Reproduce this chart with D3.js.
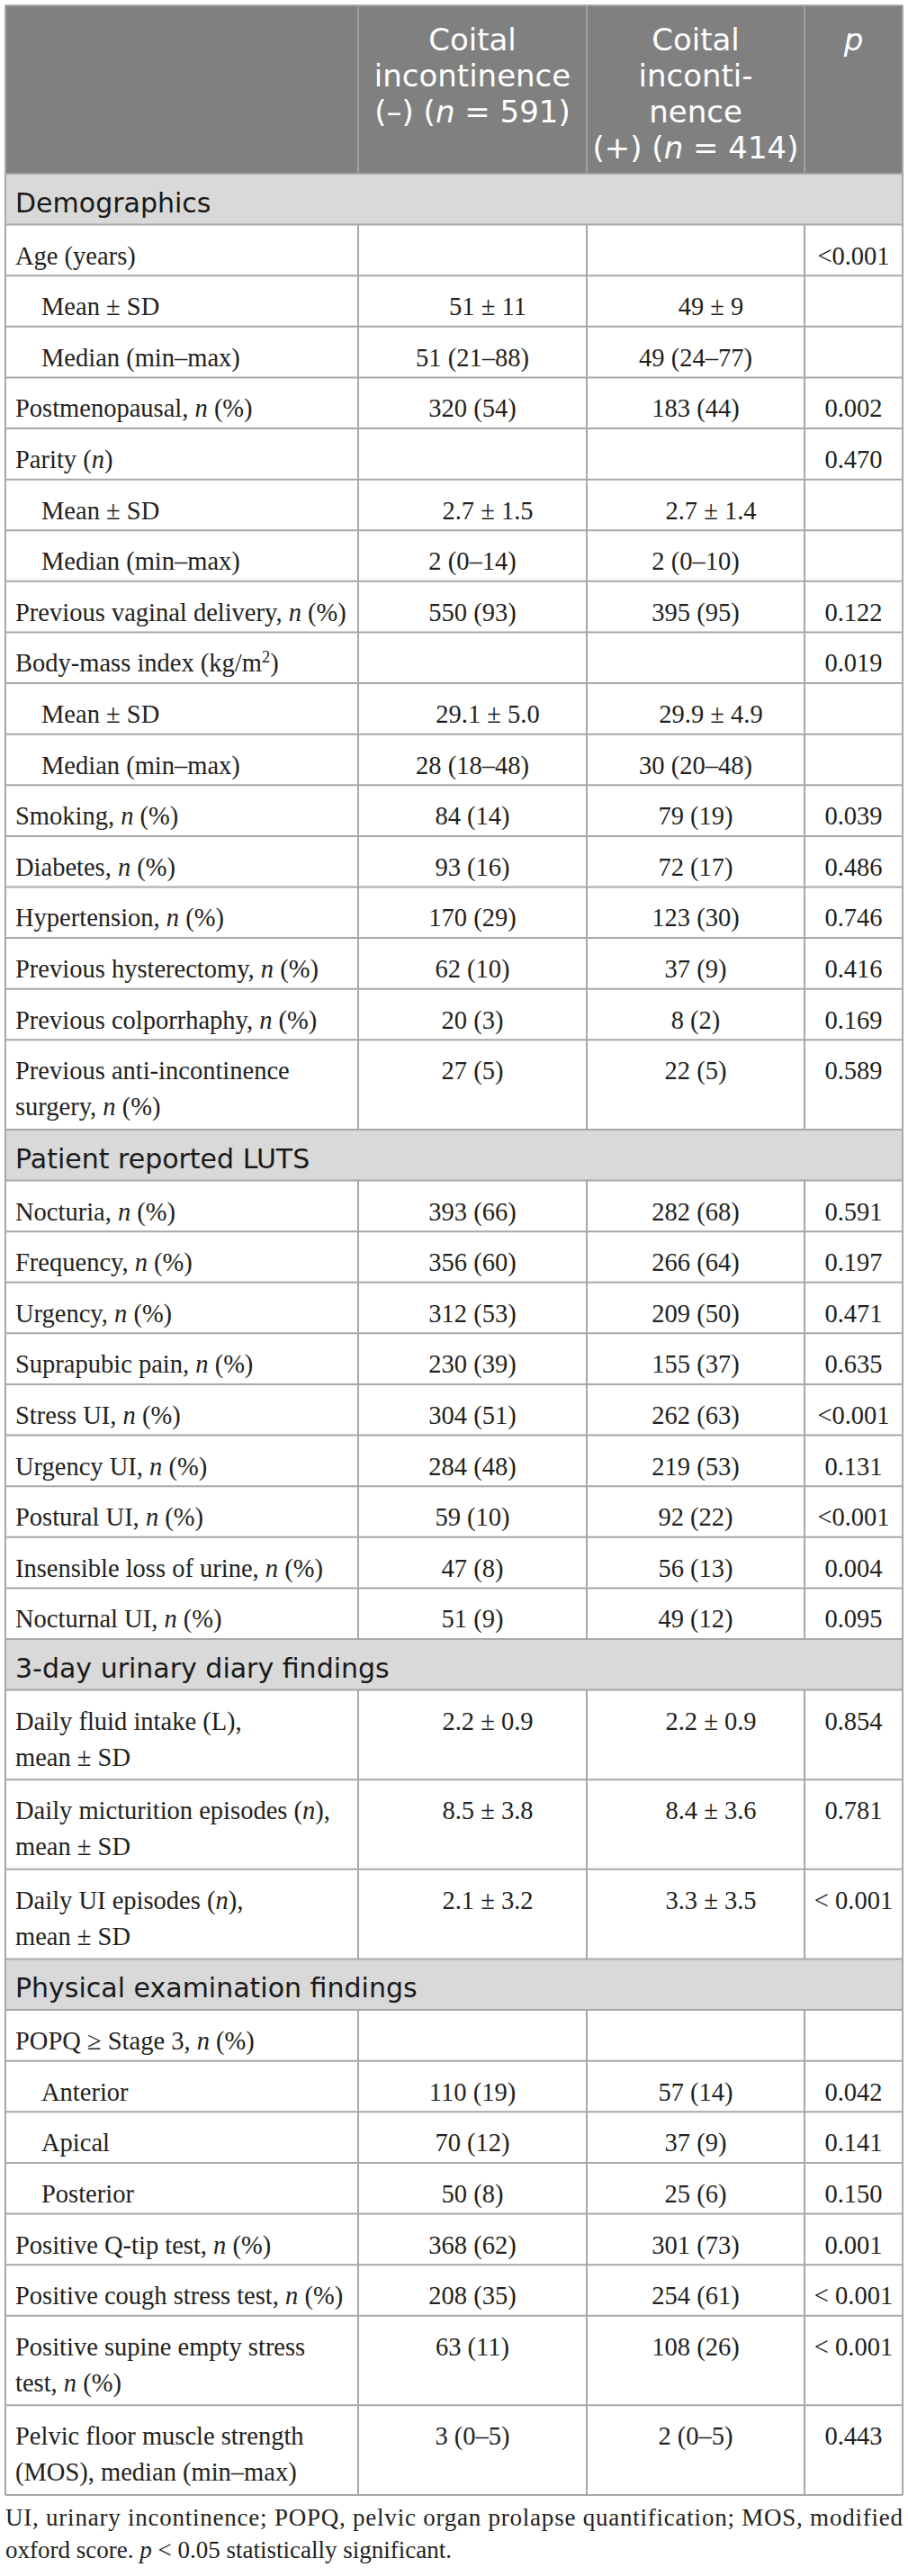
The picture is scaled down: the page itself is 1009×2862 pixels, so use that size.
<!DOCTYPE html>
<html><head><meta charset="utf-8">
<script src="https://cdn.jsdelivr.net/npm/d3@7"></script>
<style>html,body{margin:0;padding:0;background:#fff}</style>
</head><body><div id="chart"></div>
<script>
// ---------- data ----------
const headerNeg = ["Coital", "incontinence", "(–) (*n* = 591)"];
const headerPos = ["Coital", "inconti-", "nence", "(+) (*n* = 414)"];
const headerP = ["*p*"];

const rowKinds = [
  "section","item","sub","sub","item","item","sub","sub","item","item","sub","sub",
  "item","item","item","item","item","item",
  "section","item","item","item","item","item","item","item","item","item",
  "section","item","item","item",
  "section","item","sub","sub","sub","item","item","item","item"
];
const rowLabels = [
  "Demographics",
  "Age (years)",
  "Mean ± SD",
  "Median (min–max)",
  "Postmenopausal, *n* (%)",
  "Parity (*n*)",
  "Mean ± SD",
  "Median (min–max)",
  "Previous vaginal delivery, *n* (%)",
  "Body-mass index (kg/m^2^)",
  "Mean ± SD",
  "Median (min–max)",
  "Smoking, *n* (%)",
  "Diabetes, *n* (%)",
  "Hypertension, *n* (%)",
  "Previous hysterectomy, *n* (%)",
  "Previous colporrhaphy, *n* (%)",
  "Previous anti-incontinence\nsurgery, *n* (%)",
  "Patient reported LUTS",
  "Nocturia, *n* (%)",
  "Frequency, *n* (%)",
  "Urgency, *n* (%)",
  "Suprapubic pain, *n* (%)",
  "Stress UI, *n* (%)",
  "Urgency UI, *n* (%)",
  "Postural UI, *n* (%)",
  "Insensible loss of urine, *n* (%)",
  "Nocturnal UI, *n* (%)",
  "3-day urinary diary findings",
  "Daily fluid intake (L),\nmean ± SD",
  "Daily micturition episodes (*n*),\nmean ± SD",
  "Daily UI episodes (*n*),\nmean ± SD",
  "Physical examination findings",
  "POPQ ≥ Stage 3, *n* (%)",
  "Anterior",
  "Apical",
  "Posterior",
  "Positive Q-tip test, *n* (%)",
  "Positive cough stress test, *n* (%)",
  "Positive supine empty stress\ntest, *n* (%)",
  "Pelvic floor muscle strength\n(MOS), median (min–max)"
];
const negValues = [
  "", "", "51 ± 11", "51 (21–88)", "320 (54)", "", "2.7 ± 1.5", "2 (0–14)", "550 (93)", "", "29.1 ± 5.0", "28 (18–48)",
  "84 (14)", "93 (16)", "170 (29)", "62 (10)", "20 (3)", "27 (5)",
  "", "393 (66)", "356 (60)", "312 (53)", "230 (39)", "304 (51)", "284 (48)", "59 (10)", "47 (8)", "51 (9)",
  "", "2.2 ± 0.9", "8.5 ± 3.8", "2.1 ± 3.2",
  "", "", "110 (19)", "70 (12)", "50 (8)", "368 (62)", "208 (35)", "63 (11)", "3 (0–5)"
];
const posValues = [
  "", "", "49 ± 9", "49 (24–77)", "183 (44)", "", "2.7 ± 1.4", "2 (0–10)", "395 (95)", "", "29.9 ± 4.9", "30 (20–48)",
  "79 (19)", "72 (17)", "123 (30)", "37 (9)", "8 (2)", "22 (5)",
  "", "282 (68)", "266 (64)", "209 (50)", "155 (37)", "262 (63)", "219 (53)", "92 (22)", "56 (13)", "49 (12)",
  "", "2.2 ± 0.9", "8.4 ± 3.6", "3.3 ± 3.5",
  "", "", "57 (14)", "37 (9)", "25 (6)", "301 (73)", "254 (61)", "108 (26)", "2 (0–5)"
];
const pValues = [
  "", "<0.001", "", "", "0.002", "0.470", "", "", "0.122", "0.019", "", "",
  "0.039", "0.486", "0.746", "0.416", "0.169", "0.589",
  "", "0.591", "0.197", "0.471", "0.635", "<0.001", "0.131", "<0.001", "0.004", "0.095",
  "", "0.854", "0.781", "< 0.001",
  "", "", "0.042", "0.141", "0.150", "0.001", "< 0.001", "< 0.001", "0.443"
];
const footnoteLines = [
  "UI, urinary incontinence; POPQ, pelvic organ prolapse quantification; MOS, modified",
  "oxford score. *p* < 0.05 statistically significant."
];

// ---------- layout ----------
const W = 1009, H = 2862;
const serif = "'Liberation Serif','Times New Roman',serif";
const sans = "'DejaVu Sans','Open Sans',sans-serif";
const borderColor = "#a8a8a8";
const textColor = "#231f20";

const svg = d3.select("#chart").append("svg")
  .attr("width", W).attr("height", H)
  .attr("viewBox", `0 0 ${W} ${H}`)
  .style("display", "block");

// column edges via a polylinear scale
const x = d3.scaleLinear().domain([0, 1, 2, 3, 4]).range([6, 398, 652, 894, 1003]);
const colCenter = i => (x(i) + x(i + 1)) / 2;

const rows = rowLabels.map((label, i) => {
  const lines = label.split("\n");
  const units = rowKinds[i] === "section" ? 1 : (lines.length > 1 ? 1.76 : 1);
  return { label, lines, kind: rowKinds[i], units, vals: [negValues[i], posValues[i], pValues[i]] };
});
let acc = 0;
rows.forEach(r => { r.u0 = acc; acc += r.units; r.u1 = acc; });
const y = d3.scaleLinear().domain([0, acc]).range([193, 2772]);
const headerTop = 6, headerBottom = y(0);

// append rich text (italic *..*, superscript ^..^) into a text/tspan selection
function rich(sel, str, baseSize) {
  const parts = str.split(/(\*[^*]+\*|\^[^^]+\^)/).filter(s => s.length);
  let raised = false;
  parts.forEach(p => {
    if (p.startsWith("*")) {
      const t = sel.append("tspan").attr("font-style", "italic").text(p.slice(1, -1));
      if (raised) { t.attr("dy", 0.35 * baseSize); raised = false; }
    } else if (p.startsWith("^")) {
      sel.append("tspan").attr("font-size", baseSize * 0.65).attr("dy", -0.35 * baseSize).text(p.slice(1, -1));
      raised = true;
    } else {
      const t = sel.append("tspan").text(p);
      if (raised) { t.attr("dy", 0.35 * baseSize); raised = false; }
    }
  });
}
// multi-line text as one <text> element with one tspan per line
function multiline(textSel, lines, x0, y0, lh, size) {
  lines.forEach((ln, k) => {
    const lineT = textSel.append("tspan").attr("x", x0).attr("y", y0 + k * lh);
    rich(lineT, ln, size);
  });
}

// header background
svg.append("rect").attr("x", x(0)).attr("y", headerTop)
  .attr("width", x(4) - x(0)).attr("height", headerBottom - headerTop)
  .attr("fill", "#808080");

// section bands
svg.selectAll("rect.section").data(rows.filter(r => r.kind === "section")).join("rect")
  .attr("class", "section")
  .attr("x", x(0)).attr("y", r => y(r.u0))
  .attr("width", x(4) - x(0)).attr("height", r => y(r.u1) - y(r.u0))
  .attr("fill", "#d9d9d9");

// header text
const headerFont = 34;
[[1, headerNeg], [2, headerPos], [3, headerP]].forEach(([c, lines]) => {
  const t = svg.append("text")
    .attr("text-anchor", "middle")
    .attr("font-family", sans).attr("font-size", headerFont)
    .attr("fill", "#ffffff");
  multiline(t, lines, colCenter(c), headerTop + 50, 40, headerFont);
});

// grid lines: horizontal
const hLines = [headerTop, headerBottom].concat(rows.map(r => y(r.u1)));
svg.selectAll("line.h").data(hLines).join("line")
  .attr("class", "h")
  .attr("x1", x(0)).attr("x2", x(4))
  .attr("y1", d => d).attr("y2", d => d)
  .attr("stroke", borderColor).attr("stroke-width", 2);

// outer verticals
[0, 4].forEach(c => {
  svg.append("line").attr("x1", x(c)).attr("x2", x(c))
    .attr("y1", headerTop).attr("y2", y(acc))
    .attr("stroke", borderColor).attr("stroke-width", 2);
});
// inner verticals in header
[1, 2, 3].forEach(c => {
  svg.append("line").attr("x1", x(c)).attr("x2", x(c))
    .attr("y1", headerTop).attr("y2", headerBottom)
    .attr("stroke", "#a0a0a0").attr("stroke-width", 2);
});
// inner verticals in body rows (not in sections)
rows.filter(r => r.kind !== "section").forEach(r => {
  [1, 2, 3].forEach(c => {
    svg.append("line").attr("x1", x(c)).attr("x2", x(c))
      .attr("y1", y(r.u0)).attr("y2", y(r.u1))
      .attr("stroke", borderColor).attr("stroke-width", 2);
  });
});

// section labels
const secFont = 30;
svg.selectAll("text.sec").data(rows.filter(r => r.kind === "section")).join("text")
  .attr("class", "sec")
  .attr("x", 17).attr("y", r => y(r.u0) + 43)
  .attr("font-family", sans).attr("font-size", secFont)
  .attr("fill", "#1a1a1a")
  .text(r => r.label);

// row labels and values
const bodyFont = 28.5;
rows.filter(r => r.kind !== "section").forEach(r => {
  const t = svg.append("text")
    .attr("font-family", serif).attr("font-size", bodyFont)
    .attr("fill", textColor);
  multiline(t, r.lines, r.kind === "sub" ? 46 : 17, y(r.u0) + 44, 40, bodyFont);
  r.vals.forEach((v, c) => {
    if (!v) return;
    svg.append("text")
      .attr("x", colCenter(c + 1) + (v.includes("±") ? 17 : 0))
      .attr("y", y(r.u0) + 44)
      .attr("text-anchor", "middle")
      .attr("font-family", serif).attr("font-size", bodyFont)
      .attr("fill", textColor)
      .text(v);
  });
});

// footnote
const fnFont = 27;
footnoteLines.forEach((ln, k) => {
  const t = svg.append("text")
    .attr("x", x(0)).attr("y", 2806 + k * 36)
    .attr("font-family", serif).attr("font-size", fnFont)
    .attr("fill", textColor);
  if (k === 0) t.attr("textLength", x(4) - x(0)).attr("lengthAdjust", "spacing");
  rich(t, ln, fnFont);
});
</script>
</body></html>
